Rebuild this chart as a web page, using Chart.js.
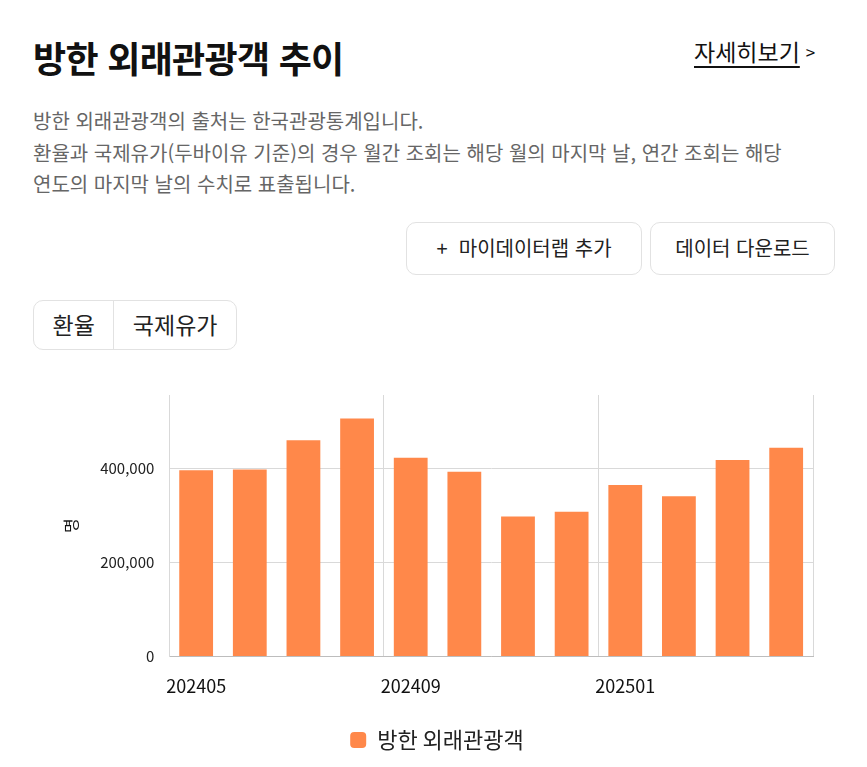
<!DOCTYPE html>
<html lang="ko">
<head>
<meta charset="utf-8">
<title>방한 외래관광객 추이</title>
<script src="https://cdn.jsdelivr.net/npm/chart.js@4/dist/chart.umd.min.js"></script>
<style>
  html, body { margin: 0; padding: 0; background: #fff; }
  body { width: 867px; height: 767px; position: relative; overflow: hidden;
         font-family: "Noto Sans CJK KR", "Noto Sans", sans-serif; color: #111; }
  .title { position: absolute; left: 33px; top: 31px; margin: 0; font-size: 36px; font-weight: 700;
           letter-spacing: -0.7px; line-height: 52px; }
  .more { position: absolute; left: 694px; top: 35px; font-size: 23px; line-height: 33px; color: #111; }
  .more span { text-decoration: underline; text-underline-offset: 5px; }
  .more i { font-style: normal; font-size: 17px; margin-left: 6px; vertical-align: 2px; }
  .desc { position: absolute; left: 33px; top: 105px; margin: 0; font-size: 20px; line-height: 31.5px;
          color: #666; }
  .btn { position: absolute; top: 222px; height: 53px; box-sizing: border-box; border: 1px solid #e2e2e2;
         border-radius: 10px; font-size: 20px; line-height: 50px; color: #222; text-align: center; }
  .toggle { position: absolute; left: 33px; top: 300px; height: 50px; box-sizing: border-box;
            border: 1px solid #e2e2e2; border-radius: 10px; display: flex; font-size: 23px; color: #222; }
  .toggle div { line-height: 47px; padding: 0 18.5px; }
  .toggle div + div { border-left: 1px solid #e2e2e2; }
  .chart-box { position: absolute; left: 33px; top: 371px; width: 802px; height: 396px; }
</style>
</head>
<body>
<h1 class="title">방한 외래관광객 추이</h1>
<div class="more"><span>자세히보기</span><i>&gt;</i></div>
<p class="desc">방한 외래관광객의 출처는 한국관광통계입니다.<br>환율과 국제유가(두바이유 기준)의 경우 월간 조회는 해당 월의 마지막 날, 연간 조회는 해당<br>연도의 마지막 날의 수치로 표출됩니다.</p>
<div class="btn" style="left:406px;width:236px;">+&nbsp;&nbsp;마이데이터랩 추가</div>
<div class="btn" style="left:650px;width:185px;">데이터 다운로드</div>
<div class="toggle"><div>환율</div><div>국제유가</div></div>
<div class="chart-box"><canvas id="visitorChart"></canvas></div>

<script>
  // 월별 방한 외래관광객 (명)
  const months = ['202405', '202406', '202407', '202408', '202409', '202410',
                  '202411', '202412', '202501', '202502', '202503', '202504'];
  const visitors = [395000, 397000, 459000, 505000, 422000, 392000,
                    297000, 307000, 364000, 340000, 417000, 443000];
  const yTicks = [0, 200000, 400000];
  const yMax = 555000;

  const barColor = '#FF884A';

  new Chart(document.getElementById('visitorChart'), {
    type: 'bar',
    data: {
      labels: months,
      datasets: [{
        label: '방한 외래관광객',
        data: visitors,
        backgroundColor: barColor,
        borderWidth: 0,
        barPercentage: 0.9,
        categoryPercentage: 0.7,
      }],
    },
    options: {
      responsive: true,
      maintainAspectRatio: false,
      animation: false,
      layout: { padding: { top: 12, left: 28, right: 22, bottom: 6 } },
      plugins: {
        tooltip: { enabled: false },
        legend: {
          position: 'bottom',
          labels: {
            color: '#222',
            font: { family: 'Noto Sans CJK KR', size: 22 },
            boxWidth: 16,
            boxHeight: 16,
            useBorderRadius: true,
            borderRadius: 4,
            padding: 13,
          },
        },
      },
      scales: {
        x: {
          grid: {
            drawTicks: false,
            // 4개월 간격으로만 세로 격자선 표시
            color: function (ctx) {
              return (ctx.index === undefined || ctx.index % 4 === 0) ? '#d9d9d9' : 'rgba(0,0,0,0)';
            },
          },
          border: { color: '#bdbdbd' },
          ticks: {
            autoSkip: false,
            maxRotation: 0,
            padding: 19,
            color: '#111',
            font: { family: 'Noto Sans CJK KR', size: 18 },
            callback: function (value, index) {
              return index % 4 === 0 ? months[index] : '';
            },
          },
        },
        y: {
          min: 0,
          max: yMax,
          afterBuildTicks: function (axis) {
            axis.ticks = yTicks.map(function (v) { return { value: v }; });
          },
          grid: { drawTicks: false, color: '#d9d9d9' },
          border: { color: '#d9d9d9' },
          title: {
            display: true,
            text: '명',
            color: '#111',
            font: { family: 'Noto Sans CJK KR', size: 16 },
            padding: { top: 0, bottom: 5 },
          },
          ticks: {
            padding: 15,
            color: '#222',
            font: { family: 'Noto Sans CJK KR', size: 15 },
            callback: function (value) { return value.toLocaleString('en-US'); },
          },
        },
      },
    },
  });
</script>
</body>
</html>
